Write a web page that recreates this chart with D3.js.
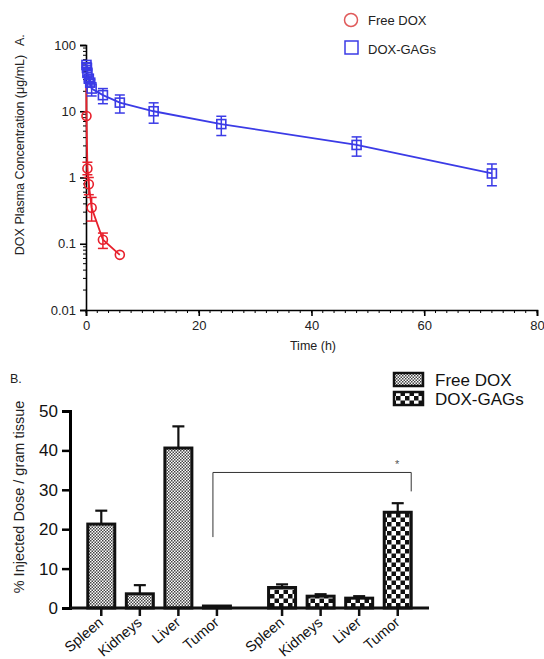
<!DOCTYPE html>
<html>
<head>
<meta charset="utf-8">
<script src="https://cdn.jsdelivr.net/npm/d3@7"></script>
<style>
  body { margin: 0; background: #fff; }
  svg { font-family: "Liberation Sans", Arial, sans-serif; }
</style>
</head>
<body>
<script>
// Panel A data: plasma concentration (ug/mL) vs time (h)
var freeTime = [0.05, 0.083, 0.25, 0.5, 1, 3, 6];
var freeConc = [27, 8.5, 1.37, 0.79, 0.35, 0.115, 0.068];
var freeLo   = [27, 8.5, 1.1, 0.55, 0.22, 0.085, 0.068];
var freeHi   = [27, 8.5, 1.7, 1.0, 0.5, 0.145, 0.068];

var gagTime = [0.083, 0.167, 0.25, 0.5, 0.75, 1, 3, 6, 12, 24, 48, 72];
var gagConc = [50, 45, 38, 31, 27, 22, 17.5, 13.5, 10, 6.4, 3.1, 1.15];
var gagLo   = [46, 41, 34, 28, 24, 17, 13, 9.4, 6.6, 4.3, 2.1, 0.75];
var gagHi   = [54, 49, 42, 34, 30, 27, 22, 17.6, 13.4, 8.4, 4.1, 1.6];

var yTicksA = [0.01, 0.1, 1, 10, 100];
var xTicksA = [0, 20, 40, 60, 80];

// Panel B data: % injected dose / gram tissue
var groups = ["Free DOX", "DOX-GAGs"];
var organs = ["Spleen", "Kidneys", "Liver", "Tumor"];
var freeDose = [21.3, 3.6, 40.6, 0.5];
var freeErr  = [3.4, 2.2, 5.5, 0];
var gagDose  = [5.2, 3.0, 2.5, 24.3];
var gagErr   = [0.8, 0.5, 0.5, 2.3];
var yTicksB = [0, 10, 20, 30, 40, 50];

var red = "#e8202c", blue = "#3b3be6";

var svg = d3.select("body").append("svg")
  .attr("width", 544).attr("height", 659);

var defs = svg.append("defs");
// fine checker for Free DOX
var p1 = defs.append("pattern").attr("id", "fine")
  .attr("patternUnits", "userSpaceOnUse").attr("width", 3).attr("height", 3);
p1.append("rect").attr("width", 3).attr("height", 3).attr("fill", "#fff");
p1.append("rect").attr("width", 1.5).attr("height", 1.5).attr("fill", "#444");
p1.append("rect").attr("x", 1.5).attr("y", 1.5).attr("width", 1.5).attr("height", 1.5).attr("fill", "#444");
// coarse checker for DOX-GAGs
var p2 = defs.append("pattern").attr("id", "coarse")
  .attr("patternUnits", "userSpaceOnUse").attr("width", 9).attr("height", 9);
p2.append("rect").attr("width", 9).attr("height", 9).attr("fill", "#fff");
p2.append("rect").attr("width", 4.5).attr("height", 4.5).attr("fill", "#111");
p2.append("rect").attr("x", 4.5).attr("y", 4.5).attr("width", 4.5).attr("height", 4.5).attr("fill", "#111");

// ================= Panel A =================
var xA = d3.scaleLinear().domain([0, 80]).range([86, 537]);
var yA = d3.scaleLog().domain([0.01, 100]).range([310, 45]);

var gA = svg.append("g");

// minor log ticks
var minorY = [];
yTicksA.slice(0, -1).forEach(function(d) {
  for (var k = 2; k < 10; k++) minorY.push(d * k);
});
gA.selectAll(".minY").data(minorY).enter().append("line")
  .attr("x1", 83).attr("x2", 86)
  .attr("y1", d => yA(d)).attr("y2", d => yA(d))
  .attr("stroke", "#000").attr("stroke-width", 1);

var leftA = d3.axisLeft(yA).tickValues(yTicksA).tickFormat(d => String(d)).tickSize(6).tickPadding(4);
gA.append("g").attr("transform", "translate(86,0)").call(leftA)
  .call(g => g.selectAll("text").attr("font-size", 13).attr("fill", "#222").style("font-family", "Liberation Sans, Arial"))
  .call(g => g.selectAll("line, path").attr("stroke-width", 1.6));

var minorX = d3.range(0, 81, 2);
gA.selectAll(".minX").data(minorX).enter().append("line")
  .attr("x1", d => xA(d)).attr("x2", d => xA(d))
  .attr("y1", 310).attr("y2", 313)
  .attr("stroke", "#000").attr("stroke-width", 1);

var bottomA = d3.axisBottom(xA).tickValues(xTicksA).tickSize(6).tickPadding(5);
gA.append("g").attr("transform", "translate(0,310)").call(bottomA)
  .call(g => g.selectAll("text").attr("font-size", 13).attr("fill", "#222").style("font-family", "Liberation Sans, Arial"))
  .call(g => g.selectAll("line, path").attr("stroke-width", 1.6));

gA.append("text").attr("x", 313).attr("y", 350).attr("text-anchor", "middle")
  .attr("font-size", 12.5).attr("fill", "#222").text("Time (h)");

gA.append("text").attr("transform", "translate(24,155) rotate(-90)")
  .attr("text-anchor", "middle").attr("font-size", 12.5).attr("fill", "#222")
  .text("DOX Plasma Concentration (\u03bcg/mL)");
gA.append("text").attr("transform", "translate(24,46) rotate(-90)")
  .attr("font-size", 12.5).attr("fill", "#222").text("A.");

function drawSeries(times, conc, lo, hi, color, shape) {
  var pts = times.map((t, i) => ({t: t, v: conc[i], lo: lo[i], hi: hi[i]}));
  var line = d3.line().x(d => xA(d.t)).y(d => yA(d.v));
  gA.append("path").datum(pts).attr("d", line)
    .attr("fill", "none").attr("stroke", color).attr("stroke-width", 1.8);
  var eb = gA.append("g").attr("stroke", color).attr("stroke-width", 1.5);
  pts.filter(d => d.hi > d.lo).forEach(function(d) {
    var x = xA(d.t);
    eb.append("line").attr("x1", x).attr("x2", x).attr("y1", yA(d.lo)).attr("y2", yA(d.hi));
    eb.append("line").attr("x1", x - 5).attr("x2", x + 5).attr("y1", yA(d.lo)).attr("y2", yA(d.lo));
    eb.append("line").attr("x1", x - 5).attr("x2", x + 5).attr("y1", yA(d.hi)).attr("y2", yA(d.hi));
  });
  var markers = pts.slice(shape === "circle" ? 1 : 0);
  if (shape === "circle") {
    gA.selectAll(null).data(markers).enter().append("circle")
      .attr("cx", d => xA(d.t)).attr("cy", d => yA(d.v)).attr("r", 4.5)
      .attr("fill", "none").attr("stroke", color).attr("stroke-width", 1.6);
  } else {
    gA.selectAll(null).data(markers).enter().append("rect")
      .attr("x", d => xA(d.t) - 4.5).attr("y", d => yA(d.v) - 4.5)
      .attr("width", 9).attr("height", 9)
      .attr("fill", "none").attr("stroke", color).attr("stroke-width", 1.6);
  }
}
drawSeries(freeTime, freeConc, freeLo, freeHi, red, "circle");
drawSeries(gagTime, gagConc, gagLo, gagHi, blue, "square");

// legend A
gA.append("circle").attr("cx", 351).attr("cy", 20).attr("r", 6.5)
  .attr("fill", "none").attr("stroke", "#e05a5a").attr("stroke-width", 1.5);
gA.append("text").attr("x", 368).attr("y", 25).attr("font-size", 13).attr("fill", "#222").text("Free DOX");
gA.append("rect").attr("x", 345).attr("y", 41).attr("width", 13).attr("height", 13)
  .attr("fill", "none").attr("stroke", blue).attr("stroke-width", 1.5);
gA.append("text").attr("x", 368).attr("y", 54).attr("font-size", 13).attr("fill", "#222").text("DOX-GAGs");

// ================= Panel B =================
var gB = svg.append("g");
var yB = d3.scaleLinear().domain([0, 50]).range([608, 411]);
var xGroup = d3.scaleBand().domain(groups).range([82, 417]).paddingInner(0.147);
var xOrgan = d3.scaleBand().domain(organs).range([0, xGroup.bandwidth()]).paddingInner(0.3).paddingOuter(0.15);

gB.append("text").attr("x", 10).attr("y", 383).attr("font-size", 12.5).attr("fill", "#222").text("B.");

var leftB = d3.axisLeft(yB).tickValues(yTicksB).tickSize(8).tickPadding(4);
gB.append("g").attr("transform", "translate(70,0)").call(leftB)
  .call(g => g.select("path").attr("stroke-width", 3))
  .call(g => g.selectAll("line").attr("stroke-width", 2.5))
  .call(g => g.selectAll("text").attr("font-size", 17).attr("fill", "#111").style("font-family", "Liberation Sans, Arial"));

gB.append("text").attr("transform", "translate(24,497) rotate(-90)")
  .attr("text-anchor", "middle").attr("font-size", 14.5).attr("fill", "#222")
  .text("% Injected Dose  / gram tissue");

var barData = [];
groups.forEach(function(g, gi) {
  organs.forEach(function(o, oi) {
    barData.push({
      group: g, organ: o,
      v: gi === 0 ? freeDose[oi] : gagDose[oi],
      e: gi === 0 ? freeErr[oi] : gagErr[oi],
      fill: gi === 0 ? "url(#fine)" : "url(#coarse)"
    });
  });
});
function bx(d) { return xGroup(d.group) + xOrgan(d.organ); }

// error bars (upper only)
barData.filter(d => d.e > 0).forEach(function(d) {
  var cx = bx(d) + xOrgan.bandwidth() / 2;
  gB.append("line").attr("x1", cx).attr("x2", cx).attr("y1", yB(d.v)).attr("y2", yB(d.v + d.e))
    .attr("stroke", "#111").attr("stroke-width", 2.2);
  gB.append("line").attr("x1", cx - 6).attr("x2", cx + 6).attr("y1", yB(d.v + d.e)).attr("y2", yB(d.v + d.e))
    .attr("stroke", "#111").attr("stroke-width", 2.2);
});

gB.selectAll(".bar").data(barData).enter().append("rect")
  .attr("x", d => bx(d)).attr("width", xOrgan.bandwidth())
  .attr("y", d => yB(d.v)).attr("height", d => yB(0) - yB(d.v))
  .attr("fill", d => d.fill).attr("stroke", "#111").attr("stroke-width", 3);

// x axis line and ticks
gB.append("line").attr("x1", 70).attr("x2", 429).attr("y1", yB(0)).attr("y2", yB(0))
  .attr("stroke", "#111").attr("stroke-width", 3);
barData.forEach(function(d) {
  var cx = bx(d) + xOrgan.bandwidth() / 2;
  gB.append("line").attr("x1", cx).attr("x2", cx).attr("y1", yB(0)).attr("y2", yB(0) + 8)
    .attr("stroke", "#111").attr("stroke-width", 2.5);
  gB.append("text").attr("transform", "translate(" + (cx + 3) + "," + (yB(0) + 16) + ") rotate(-40)")
    .attr("text-anchor", "end").attr("font-size", 14.5).attr("fill", "#111").text(d.organ);
});

// significance bracket
var tFree = barData[3], tGag = barData[7];
var bl = bx(tFree) + xOrgan.bandwidth() / 2 - 4;
var br = bx(tGag) + xOrgan.bandwidth();
gB.append("path")
  .attr("d", "M" + bl + "," + yB(18) + "V" + yB(34.4) + "H" + br + "V" + yB(29.6))
  .attr("fill", "none").attr("stroke", "#333").attr("stroke-width", 1);
gB.append("text").attr("x", br - 14).attr("y", yB(35.6)).attr("text-anchor", "middle")
  .attr("font-size", 11).attr("fill", "#555").text("*");

// legend B
var lg = gB.append("g");
groups.forEach(function(g, i) {
  lg.append("rect").attr("x", 394).attr("y", 373 + i * 19).attr("width", 29).attr("height", 13)
    .attr("fill", i === 0 ? "url(#fine)" : "url(#coarse)").attr("stroke", "#111").attr("stroke-width", 2.5);
  lg.append("text").attr("x", 435).attr("y", 386 + i * 19).attr("font-size", 17).attr("fill", "#111").text(g);
});
</script>
</body>
</html>
